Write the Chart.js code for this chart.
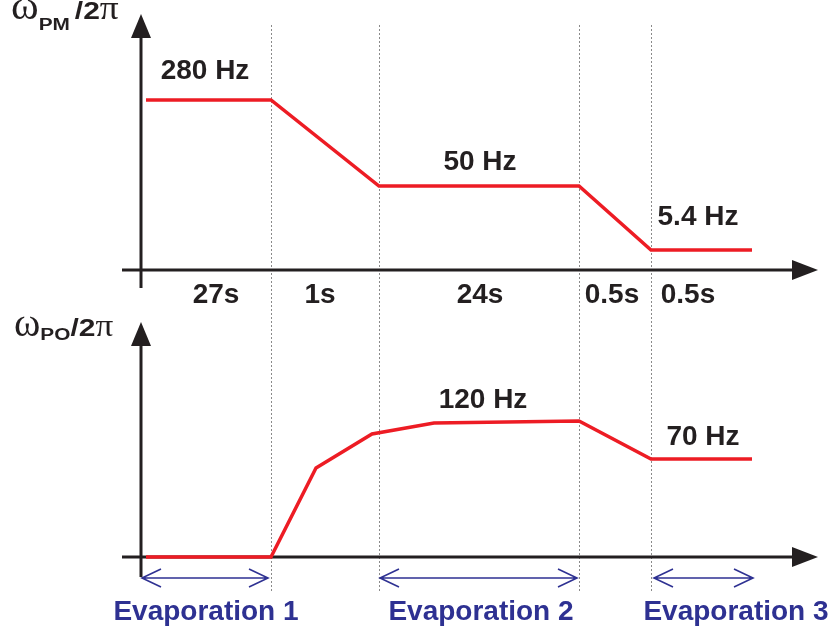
<!DOCTYPE html>
<html>
<head>
<meta charset="utf-8">
<script src="https://cdn.jsdelivr.net/npm/chart.js@4/dist/chart.umd.min.js"></script>
<style>
  html, body { margin: 0; padding: 0; background: #ffffff; }
  #wrap { width: 835px; height: 634px; }
</style>
</head>
<body>
<div id="wrap"><canvas id="c" width="835" height="634"></canvas></div>
<script>
// ---- Data (schematic time axis; levels in schematic height units) ----
const phaseBoundaries = [1.30, 2.38, 4.38, 5.10];          // dotted separators
const phaseDurations  = ['27s', '1s', '24s', '0.5s', '0.5s'];
const pmTime  = [0.05, 1.30, 2.38, 4.38, 5.10, 6.11];
const pmLevel = [1.70, 1.70, 0.84, 0.84, 0.20, 0.20];
const pmLabels = ['280 Hz', '50 Hz', '5.4 Hz'];
const poTime  = [0.05, 1.30, 1.75, 2.31, 2.93, 4.38, 5.10, 6.11];
const poLevel = [0.00, 0.00, 0.89, 1.23, 1.34, 1.36, 0.98, 0.98];
const poLabels = ['120 Hz', '70 Hz'];
const evapNames = ['Evaporation 1', 'Evaporation 2', 'Evaporation 3'];
const evapStart = [0.00, 2.38, 5.12];
const evapEnd   = [1.27, 4.36, 6.12];

// ---- Layout helpers (not data) ----
const pmLabelAt  = [[0.64, 0.29], [3.39, 0.24], [5.57, 0.33]];   // x, offset above level
const pmLabelLevel = [1.70, 0.84, 0.20];
const poLabelAt  = [[3.42, 0.21], [5.62, 0.22]];
const poLabelLevel = [1.36, 0.98];
const durationX = [0.75, 1.79, 3.39, 4.71, 5.47];

const RED = '#ed1c24', INK = '#231f20', BLUE = '#2e3192', DOT = '#8a8a8a';

function pts(xs, ys) { return xs.map((x, i) => ({ x: x, y: ys[i] })); }

function stretchText(ctx, txt, x, y, font, sx, align) {
  ctx.save();
  ctx.font = font;
  ctx.textBaseline = 'alphabetic';
  ctx.textAlign = 'left';
  const w = ctx.measureText(txt).width * sx;
  let x0 = x;
  if (align === 'center') x0 = x - w / 2;
  ctx.translate(x0, y);
  ctx.scale(sx, 1);
  ctx.fillText(txt, 0, 0);
  ctx.restore();
  return w;
}

function arrowUp(ctx, x, tipY) {
  ctx.beginPath();
  ctx.moveTo(x, tipY);
  ctx.lineTo(x - 10, tipY + 24);
  ctx.lineTo(x + 10, tipY + 24);
  ctx.closePath();
  ctx.fill();
}
function arrowRight(ctx, tipX, y) {
  ctx.beginPath();
  ctx.moveTo(tipX, y);
  ctx.lineTo(tipX - 26, y - 10);
  ctx.lineTo(tipX - 26, y + 10);
  ctx.closePath();
  ctx.fill();
}
function openDouble(ctx, x1, x2, y) {
  ctx.beginPath();
  ctx.moveTo(x1, y); ctx.lineTo(x2, y);
  ctx.moveTo(x1 + 19, y - 9); ctx.lineTo(x1, y); ctx.lineTo(x1 + 19, y + 9);
  ctx.moveTo(x2 - 19, y - 9); ctx.lineTo(x2, y); ctx.lineTo(x2 - 19, y + 9);
  ctx.stroke();
}

const decor = {
  id: 'decor',
  beforeDatasetsDraw(chart) {
    const ctx = chart.ctx;
    const x = chart.scales.x, yt = chart.scales.yTop, yb = chart.scales.yBot;
    ctx.save();
    // dotted separators
    ctx.strokeStyle = DOT; ctx.lineWidth = 1; ctx.setLineDash([2, 2]);
    phaseBoundaries.forEach(b => {
      const px = Math.round(x.getPixelForValue(b)) + 0.5;
      ctx.beginPath(); ctx.moveTo(px, 25); ctx.lineTo(px, 593); ctx.stroke();
    });
    ctx.setLineDash([]);
    // axes
    ctx.strokeStyle = INK; ctx.fillStyle = INK; ctx.lineWidth = 3;
    const x0 = x.getPixelForValue(0);
    [[yt, 14, 288], [yb, 322, 577]].forEach(([ys, tip, bot]) => {
      const ay = ys.getPixelForValue(0);
      ctx.beginPath(); ctx.moveTo(x0, tip + 20); ctx.lineTo(x0, bot); ctx.stroke();
      arrowUp(ctx, x0, tip);
      ctx.beginPath(); ctx.moveTo(122, ay); ctx.lineTo(800, ay); ctx.stroke();
      arrowRight(ctx, 818, ay);
    });
    ctx.restore();
  },
  afterDraw(chart) {
    const ctx = chart.ctx;
    const x = chart.scales.x, yt = chart.scales.yTop, yb = chart.scales.yBot;
    ctx.save();
    ctx.fillStyle = INK;
    ctx.textAlign = 'center'; ctx.textBaseline = 'middle';
    ctx.font = 'bold 28px "Liberation Sans", Arial, sans-serif';
    pmLabels.forEach((t, i) => {
      ctx.fillText(t, x.getPixelForValue(pmLabelAt[i][0]), yt.getPixelForValue(pmLabelLevel[i] + pmLabelAt[i][1]));
    });
    poLabels.forEach((t, i) => {
      ctx.fillText(t, x.getPixelForValue(poLabelAt[i][0]), yb.getPixelForValue(poLabelLevel[i] + poLabelAt[i][1]));
    });
    const axY = yt.getPixelForValue(0);
    phaseDurations.forEach((t, i) => {
      ctx.fillText(t, x.getPixelForValue(durationX[i]), axY + 25);
    });
    // evaporation spans
    ctx.strokeStyle = BLUE; ctx.fillStyle = BLUE; ctx.lineWidth = 1.6;
    const ey = yb.getPixelForValue(0) + 21;
    evapNames.forEach((t, i) => {
      const a = x.getPixelForValue(evapStart[i]), b = x.getPixelForValue(evapEnd[i]);
      openDouble(ctx, a + 1, b, ey);
    });
    const evapLabelX = [206, 481, 736];
    evapNames.forEach((t, i) => { ctx.fillText(t, evapLabelX[i], 612); });
    // y-axis titles
    ctx.fillStyle = INK;
    let cx = 11;
    cx += stretchText(ctx, 'ω', cx, 19, '40px "Liberation Serif", serif', 1.05);
    cx += 0;
    cx += stretchText(ctx, 'PM', cx, 30, 'bold 16px "Liberation Sans", Arial, sans-serif', 1.3);
    cx += 5;
    cx += stretchText(ctx, '/2', cx, 19, 'bold 24px "Liberation Sans", Arial, sans-serif', 1.25);
    stretchText(ctx, 'π', cx, 19, '34px "Liberation Serif", serif', 1.1);

    cx = 14;
    cx += stretchText(ctx, 'ω', cx, 336, '40px "Liberation Serif", serif', 1.0);
    cx += 0;
    cx += stretchText(ctx, 'PO', cx, 340, 'bold 16px "Liberation Sans", Arial, sans-serif', 1.3);
    cx += 0;
    cx += stretchText(ctx, '/2', cx, 336, 'bold 24px "Liberation Sans", Arial, sans-serif', 1.25);
    stretchText(ctx, 'π', cx, 336, '32px "Liberation Serif", serif', 1.1);
    ctx.restore();
  }
};

new Chart(document.getElementById('c'), {
  type: 'line',
  data: {
    datasets: [
      { label: 'PM', data: pts(pmTime, pmLevel), yAxisID: 'yTop' },
      { label: 'PO', data: pts(poTime, poLevel), yAxisID: 'yBot' }
    ]
  },
  options: {
    responsive: false,
    animation: false,
    parsing: true,
    layout: { padding: { left: 141, right: 20, top: 0, bottom: 0 } },
    elements: {
      line: { borderColor: RED, borderWidth: 3.5, tension: 0, fill: false, borderJoinStyle: 'miter' },
      point: { radius: 0 }
    },
    plugins: { legend: { display: false }, tooltip: { enabled: false } },
    scales: {
      x: { type: 'linear', min: 0, max: 6.74, display: false },
      yTop: { type: 'linear', min: -3.64, max: 2.70, display: false },
      yBot: { type: 'linear', min: -0.77, max: 5.57, display: false }
    }
  },
  plugins: [decor]
});
</script>
</body>
</html>
